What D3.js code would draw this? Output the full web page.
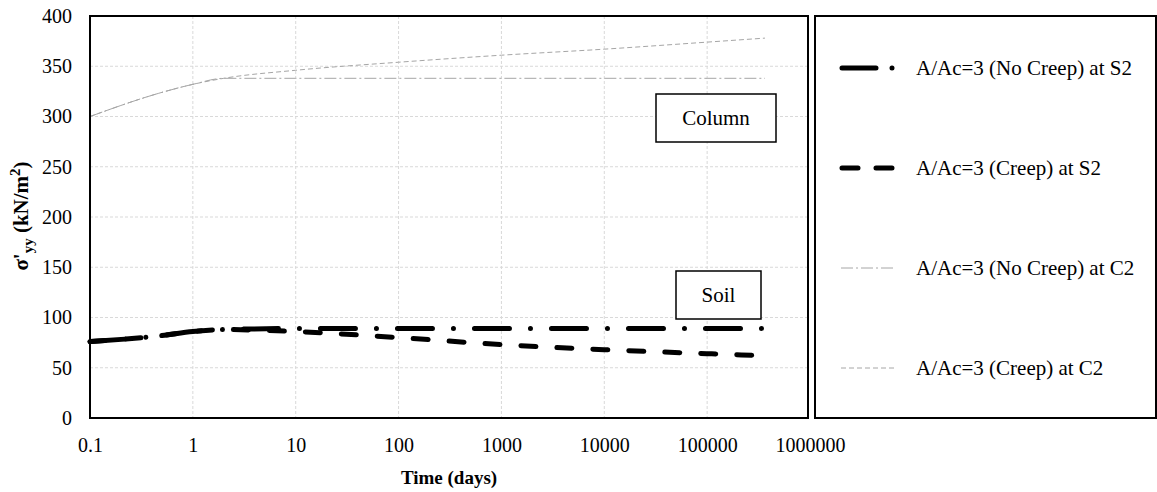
<!DOCTYPE html>
<html>
<head>
<meta charset="utf-8">
<script src="https://cdnjs.cloudflare.com/ajax/libs/d3/7.8.5/d3.min.js"></script>
<style>
  body { margin: 0; background: #fff; }
  svg text { font-family: "Liberation Serif", "DejaVu Serif", serif; fill: #000; }
  .grid line { stroke: #d9d9d9; stroke-dasharray: 3,2; }
  .axis path, .axis line { display: none; }
  .axis text { font-size: 20px; }
</style>
</head>
<body>
<div id="chart"></div>
<script>
// time in days
var times = [0.1, 0.5, 1, 2, 10, 100, 1000, 10000, 100000, 365000];
var soilNoCreep = [76, 82, 86, 88, 89, 89, 89, 89, 89, 89];
var soilCreep = [76, 82, 86, 88, 86, 80, 73, 68, 64, 62];
var columnNoCreep = [300, 324, 332, 338, 338, 338, 338, 338, 338, 338];
var columnCreep = [300, 324, 332, 338, 346, 354, 361, 367, 374, 378];

var seriesNames = [
  "A/Ac=3 (No Creep) at S2",
  "A/Ac=3 (Creep) at S2",
  "A/Ac=3 (No Creep) at C2",
  "A/Ac=3 (Creep) at C2"
];
var xTicks = [0.1, 1, 10, 100, 1000, 10000, 100000, 1000000];
var yTicks = [0, 50, 100, 150, 200, 250, 300, 350, 400];

var margin = {top: 16, left: 90},
    width = 718,
    height = 402;

var styles = [
  {stroke: "#000", width: 5, dash: "35,21,0.01,21", cap: "round", legDash: "34,16,0.01,20"},
  {stroke: "#000", width: 5, dash: "15,21", cap: "round", legDash: "16,18"},
  {stroke: "#a6a6a6", width: 1, dash: "12,3,2,3", cap: "butt", legDash: "12,3,2,3"},
  {stroke: "#a6a6a6", width: 1, dash: "5,3", cap: "butt", legDash: "5,3"}
];

var data = [soilNoCreep, soilCreep, columnNoCreep, columnCreep].map(function(vals, i) {
  return {name: seriesNames[i], style: styles[i],
    values: vals.map(function(v, j) { return {t: times[j], v: v}; })};
});

var svg = d3.select("#chart").append("svg")
    .attr("width", 1157)
    .attr("height", 492);

var g = svg.append("g")
    .attr("transform", "translate(" + margin.left + "," + margin.top + ")");

var x = d3.scaleLog()
    .domain([0.1, 1000000])
    .range([0, 720]);

var y = d3.scaleLinear()
    .domain([0, 400])
    .range([height, 0]);

// grid
g.append("g").attr("class", "grid")
  .selectAll("line.h").data(yTicks.slice(1, -1))
  .enter().append("line")
    .attr("x1", 0).attr("x2", width)
    .attr("y1", function(d) { return y(d); })
    .attr("y2", function(d) { return y(d); });

g.append("g").attr("class", "grid")
  .selectAll("line.v").data(xTicks.slice(1, -1))
  .enter().append("line")
    .attr("y1", 0).attr("y2", height)
    .attr("x1", function(d) { return x(d); })
    .attr("x2", function(d) { return x(d); });

// axes (labels only)
g.append("g")
    .attr("class", "axis")
    .call(d3.axisLeft(y).tickValues(yTicks).tickSize(0).tickPadding(18).tickFormat(d3.format("d")));

g.append("g")
    .attr("class", "axis")
    .attr("transform", "translate(0," + height + ")")
    .call(d3.axisBottom(x).tickValues(xTicks).tickSize(0).tickPadding(20)
      .tickFormat(function(d) { return d < 1 ? "0.1" : d3.format("d")(d); }));

svg.selectAll(".axis").attr("font-family", null).attr("font-size", null);

// lines
var line = d3.line()
    .x(function(d) { return x(d.t); })
    .y(function(d) { return y(d.v); })
    .curve(d3.curveMonotoneX);

g.selectAll(".series")
    .data(data.slice().reverse())
  .enter().append("path")
    .attr("class", "series")
    .attr("d", function(d) { return line(d.values); })
    .style("fill", "none")
    .style("stroke", function(d) { return d.style.stroke; })
    .style("stroke-width", function(d) { return d.style.width; })
    .style("stroke-dasharray", function(d) { return d.style.dash; })
    .style("stroke-linecap", function(d) { return d.style.cap; });

// frame
g.append("rect")
    .attr("width", width)
    .attr("height", height)
    .style("fill", "none")
    .style("stroke", "#000")
    .style("stroke-width", 2);

// annotation boxes
var notes = [
  {text: "Column", x0: 656, y0: 94, x1: 776, y1: 142},
  {text: "Soil", x0: 676, y0: 271, x1: 761, y1: 319}
];
notes.forEach(function(n) {
  svg.append("rect")
      .attr("x", n.x0).attr("y", n.y0)
      .attr("width", n.x1 - n.x0).attr("height", n.y1 - n.y0)
      .style("fill", "#fff").style("stroke", "#000").style("stroke-width", 1.5);
  svg.append("text")
      .attr("x", (n.x0 + n.x1) / 2).attr("y", (n.y0 + n.y1) / 2 + 7)
      .style("text-anchor", "middle")
      .style("font-size", "21px")
      .text(n.text);
});

// axis titles
svg.append("text")
    .attr("x", 449).attr("y", 484)
    .style("text-anchor", "middle")
    .style("font-weight", "bold")
    .style("font-size", "19px")
    .text("Time (days)");

var yl = svg.append("text")
    .attr("transform", "translate(28,216) rotate(-90)")
    .style("text-anchor", "middle")
    .style("font-weight", "bold")
    .style("font-size", "21px");
yl.append("tspan").text("σ'");
yl.append("tspan").attr("dy", 5).style("font-size", "15px").text("yy");
yl.append("tspan").attr("dy", -5).text(" (kN/m");
yl.append("tspan").attr("dy", -8).style("font-size", "15px").text("2");
yl.append("tspan").attr("dy", 8).text(")");

// legend
svg.append("rect")
    .attr("x", 815).attr("y", 16)
    .attr("width", 341).attr("height", 402)
    .style("fill", "none")
    .style("stroke", "#000")
    .style("stroke-width", 2);

var legY = [68, 168, 268, 368];
var leg = svg.selectAll(".legend")
    .data(data)
  .enter().append("g")
    .attr("class", "legend")
    .attr("transform", function(d, i) { return "translate(0," + legY[i] + ")"; });

leg.append("line")
    .attr("x1", function(d) { return d.style.width > 2 ? 842 : 841; })
    .attr("x2", 896)
    .style("stroke", function(d) { return d.style.stroke; })
    .style("stroke-width", function(d) { return d.style.width; })
    .style("stroke-dasharray", function(d) { return d.style.legDash; })
    .style("stroke-linecap", function(d) { return d.style.cap; });

leg.append("text")
    .attr("x", 916)
    .attr("y", 7)
    .style("font-size", "21px")
    .text(function(d) { return d.name; });
</script>
</body>
</html>
